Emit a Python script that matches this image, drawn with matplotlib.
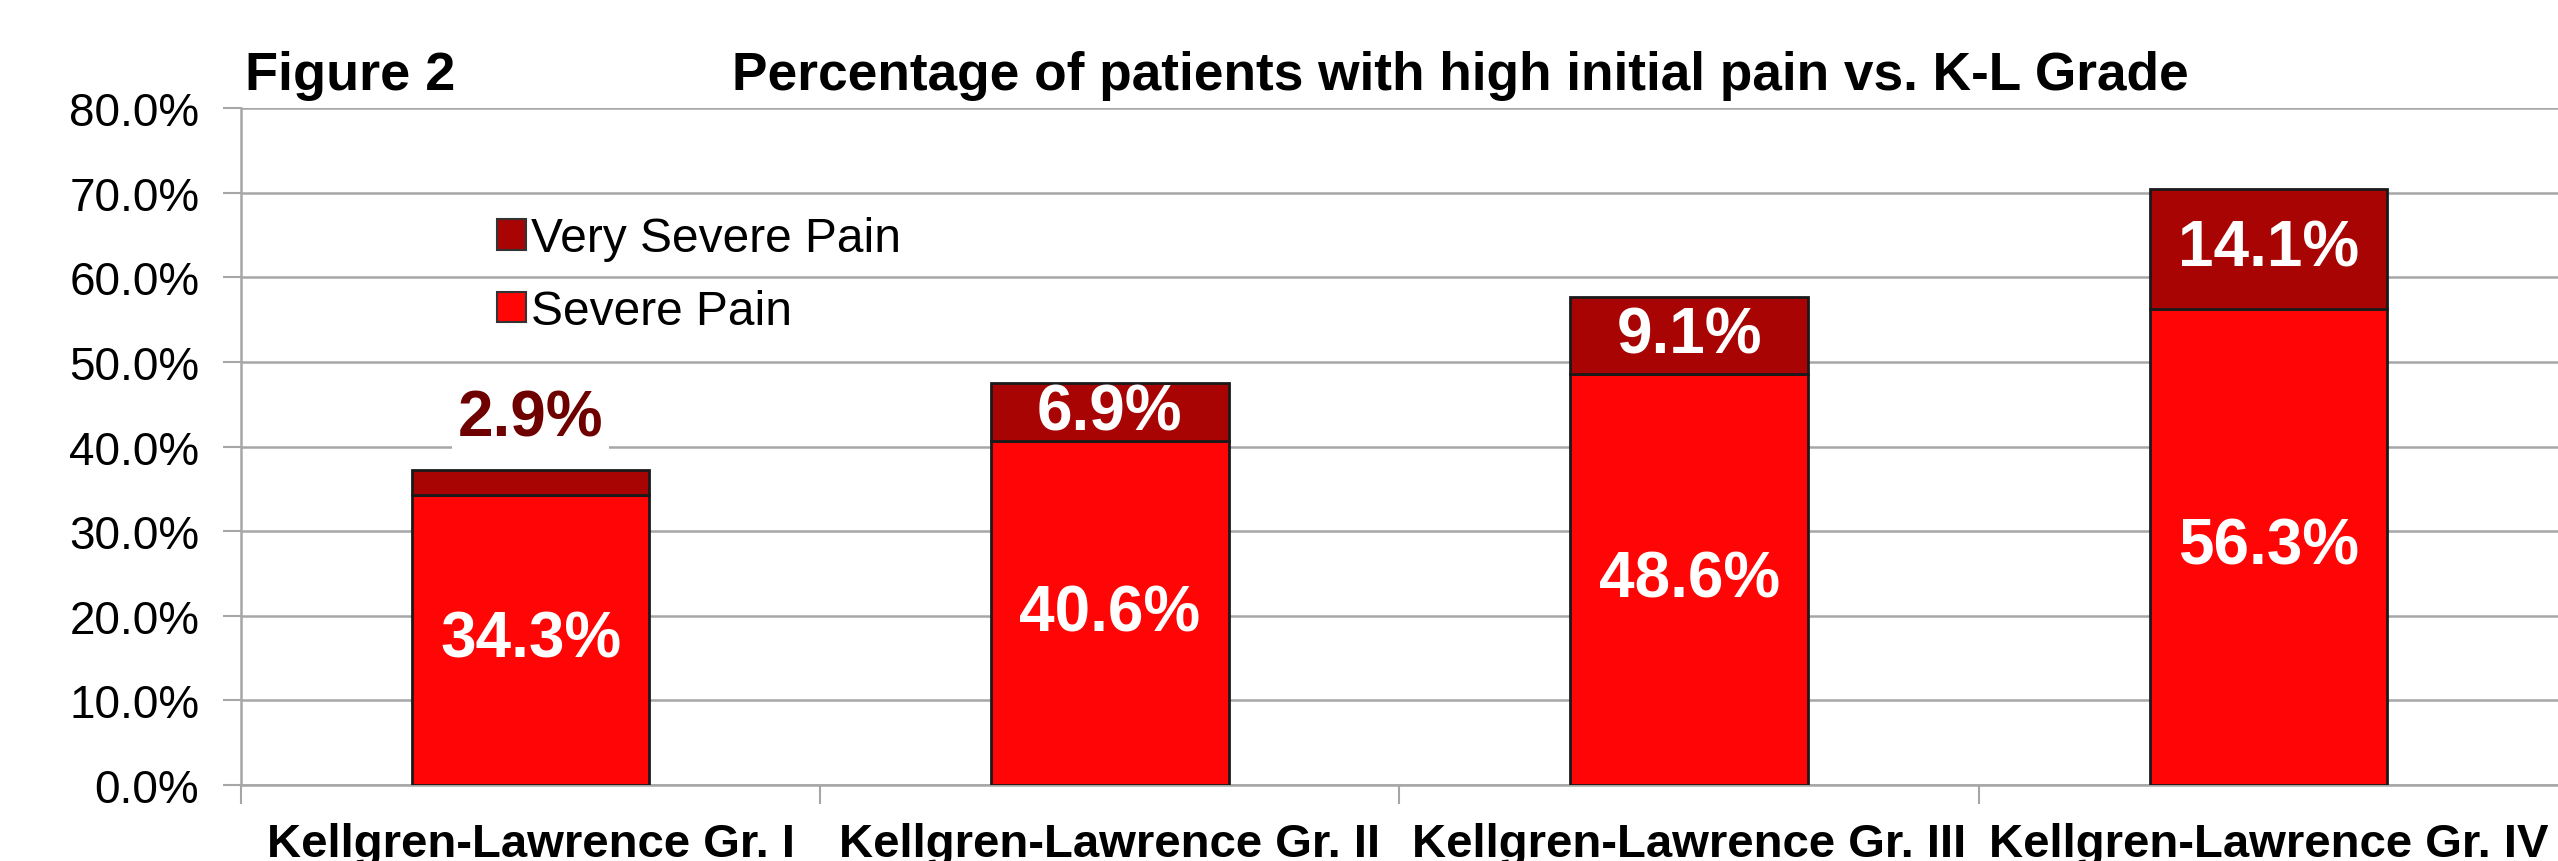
import matplotlib
matplotlib.use('Agg')
import matplotlib.pyplot as plt
from matplotlib.patches import Patch
from matplotlib.ticker import FuncFormatter, FixedLocator
import numpy as np

plt.rcParams['font.family'] = ['Liberation Sans', 'DejaVu Sans']

categories = ['Kellgren-Lawrence Gr. I', 'Kellgren-Lawrence Gr. II',
              'Kellgren-Lawrence Gr. III', 'Kellgren-Lawrence Gr. IV']
severe = [34.3, 40.6, 48.6, 56.3]
very_severe = [2.9, 6.9, 9.1, 14.1]

red = '#FF0505'
dark_red = '#A80404'
grid_col = '#A6A6A6'

fig = plt.figure(figsize=(25.58, 8.62), dpi=100)
ax = fig.add_axes([0.0942, 0.0882, 0.9058, 0.7853])

x = np.arange(len(categories))
w = 0.41
b1 = ax.bar(x, severe, w, color=red, edgecolor='#1a1a1a', linewidth=2, zorder=3)
b2 = ax.bar(x, very_severe, w, bottom=severe, color=dark_red, edgecolor='#1a1a1a',
            linewidth=2, zorder=3)

ax.set_xlim(-0.5, 3.5)
ax.set_ylim(0, 80)
ax.set_yticks(np.arange(0, 81, 10))
ax.yaxis.set_major_formatter(FuncFormatter(lambda v, p: '%.1f%%' % v))
ax.tick_params(axis='y', labelsize=33, length=13, width=1.5, color=grid_col, pad=17)
ax.yaxis.grid(True, color=grid_col, linewidth=1.8, zorder=0)
ax.set_axisbelow(True)

ax.xaxis.set_major_locator(FixedLocator([-0.5, 0.5, 1.5, 2.5]))
ax.xaxis.set_major_formatter(FuncFormatter(lambda v, p: ''))
ax.xaxis.set_minor_locator(FixedLocator(x))
ax.set_xticklabels(categories, minor=True, fontsize=34, fontweight='bold')
ax.tick_params(axis='x', which='major', length=14, width=1.5, color=grid_col, direction='out')
ax.tick_params(axis='x', which='minor', length=0, pad=27)

for s in ['top', 'right']:
    ax.spines[s].set_visible(False)
for s in ['left', 'bottom']:
    ax.spines[s].set_color(grid_col)
    ax.spines[s].set_linewidth(1.8)

# value labels
for i in range(len(categories)):
    ax.text(x[i], severe[i] / 2, '%.1f%%' % severe[i], ha='center', va='center',
            color='white', fontsize=46, fontweight='bold', zorder=5)
    if very_severe[i] > 5:
        ax.text(x[i], severe[i] + very_severe[i] / 2, '%.1f%%' % very_severe[i],
                ha='center', va='center', color='white', fontsize=46,
                fontweight='bold', zorder=5)
    else:
        ax.annotate('%.1f%%' % very_severe[i], (x[i], severe[i] + very_severe[i]),
                    xytext=(0, 37), textcoords='offset points', ha='center',
                    va='center', color='#6E0000', fontsize=46, fontweight='bold',
                    zorder=5, bbox=dict(facecolor='white', edgecolor='none', pad=4))

handles = [Patch(facecolor=dark_red, edgecolor='#333333', linewidth=1.5),
           Patch(facecolor=red, edgecolor='#333333', linewidth=1.5)]
ax.legend(handles, ['Very Severe Pain', 'Severe Pain'], loc='upper left',
          bbox_to_anchor=(0.1105, 0.84), frameon=False, fontsize=34.5,
          handlelength=0.6, handleheight=0.6, handletextpad=0.12,
          labelspacing=0.58, borderpad=0, borderaxespad=0)

fig.text(0.0958, 0.912, 'Figure 2', fontsize=39, fontweight='bold', ha='left', va='center')
fig.text(0.571, 0.912, 'Percentage of patients with high initial pain vs. K-L Grade',
         fontsize=38.3, fontweight='bold', ha='center', va='center')

fig.savefig('out.png', dpi=100)
